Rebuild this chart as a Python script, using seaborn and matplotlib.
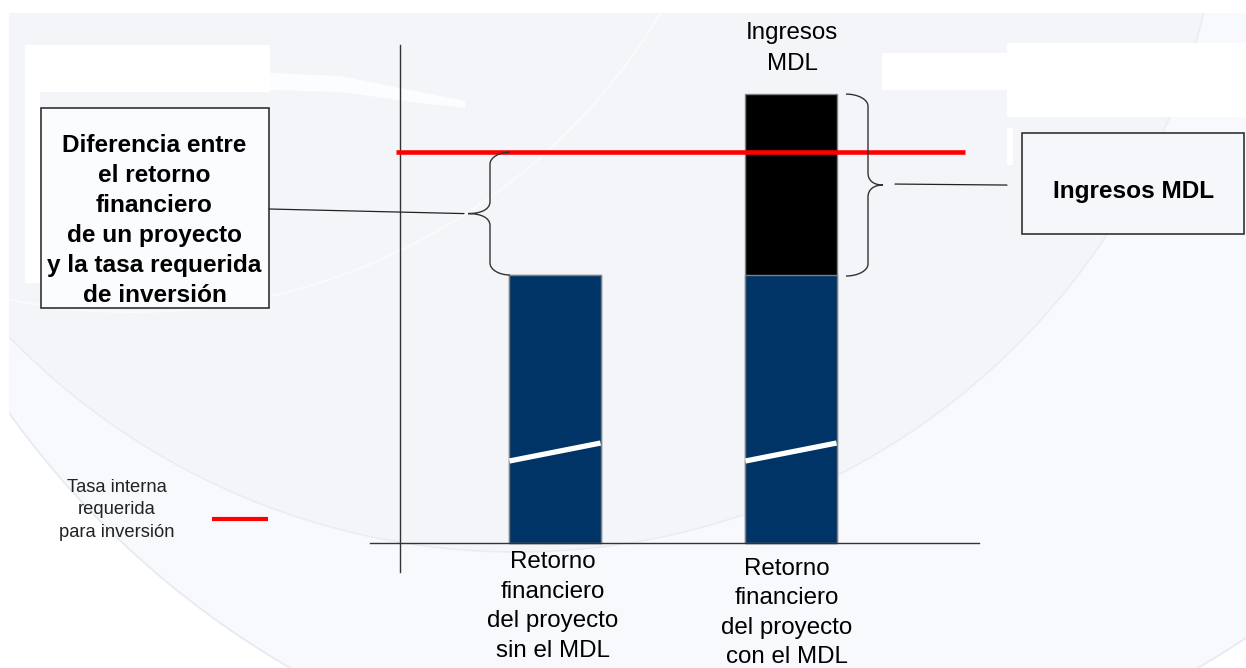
import matplotlib
matplotlib.use("Agg")
import matplotlib.pyplot as plt
import numpy as np
import pandas as pd
import seaborn as sns
from matplotlib.patches import Rectangle, Circle, Polygon, PathPatch
from matplotlib.path import Path

# ---- data -------------------------------------------------------------
escenarios = ["sin el MDL", "con el MDL"]
retorno_proyecto = [12.0, 12.0]      # financial return of the project
ingresos_mdl = [0.0, 8.1]            # extra return from CDM revenue
tasa_requerida = 17.5                # required internal rate for investment

etiquetas_barras = [
    ["Retorno", "financiero", "del proyecto", "sin el MDL"],
    ["Retorno", "financiero", "del proyecto", "con el MDL"],
]
titulo_mdl = ["Ingresos", "MDL"]
texto_diferencia = ["Diferencia entre", "el retorno", "financiero",
                    "de un proyecto", "y la tasa requerida", "de inversión"]
texto_ingresos = "Ingresos MDL"
texto_leyenda = ["Tasa interna", "requerida", "para inversión"]

# ---- style ------------------------------------------------------------
sns.set_theme(style="white")
plt.rcParams["font.family"] = ["Liberation Sans", "DejaVu Sans"]

NAVY = "#003366"
RED = "#FF0000"
INK = "#333333"

W, H = 1246, 668
fig = plt.figure(figsize=(W / 100, H / 100), dpi=100)
fig.patch.set_facecolor("white")

# background layer, pixel coordinates with y pointing down
bg = fig.add_axes([0, 0, 1, 1], zorder=0)
bg.set_xlim(0, W)
bg.set_ylim(H, 0)
bg.axis("off")
bg.add_patch(Circle((744, -115), 905, facecolor="#F8F9FC", edgecolor="#E6EBF2", lw=1.3))
bg.add_patch(Circle((517, -155), 707, facecolor="#F3F5F9", edgecolor="#E8ECF3", lw=1.1))
bg.add_patch(Circle((132, -305), 617, facecolor="none", edgecolor="#F9FAFC", lw=1.6))
for x0, y0, x1, y1 in [(0, 0, W, 13), (0, 0, 9, H), (25, 45, 270, 92), (25, 92, 40, 283),
                       (882, 53, 1007, 90), (1007, 43, W, 117), (1007, 128, 1013, 165)]:
    bg.add_patch(Rectangle((x0, y0), x1 - x0, y1 - y0, facecolor="white", edgecolor="none"))
bg.add_patch(Polygon([(270, 73), (340, 76), (420, 92), (465, 101), (465, 108),
                      (420, 103), (340, 92), (270, 90)], closed=True,
                     facecolor="#FCFDFE", edgecolor="none"))

# ---- bars -------------------------------------------------------------
ax = fig.add_axes([0, 0, 1, 1], zorder=1)
ax.patch.set_alpha(0)
df = pd.DataFrame({"escenario": escenarios,
                   "retorno": retorno_proyecto,
                   "mdl": ingresos_mdl})
df["total"] = df["retorno"] + df["mdl"]

bar_w = 0.386
sns.barplot(data=df, x="escenario", y="total", color="black", width=bar_w,
            saturation=1, edgecolor="#808080", linewidth=1, errorbar=None, ax=ax)
sns.barplot(data=df, x="escenario", y="retorno", color=NAVY, width=bar_w,
            saturation=1, edgecolor="#808080", linewidth=1, errorbar=None, ax=ax)

# scale: 268 px for the base return, baseline at y=543 px, bars 236 px apart
ppu = 268.0 / 12.0
x_unit = 236.0
x_origin = 555.0
y_base = 543.0
ax.set_ylim(-(H - y_base) / ppu, y_base / ppu)
ax.set_xlim(-x_origin / x_unit, (W - x_origin) / x_unit)
ax.set_xticks([])
ax.set_yticks([])
ax.set_xlabel("")
ax.set_ylabel("")

def px_x(p):
    return (p - x_origin) / x_unit

def px_y(p):
    return (y_base - p) / ppu

# axes drawn as crossing lines
for s in ["top", "right"]:
    ax.spines[s].set_visible(False)
ax.spines["left"].set_position(("data", px_x(400)))
ax.spines["left"].set_bounds(px_y(572), px_y(45))
ax.spines["bottom"].set_position(("data", 0))
ax.spines["bottom"].set_bounds(px_x(370), px_x(979))
for s in ["left", "bottom"]:
    ax.spines[s].set_color(INK)
    ax.spines[s].set_linewidth(1.0)

# axis-break marks on the base-return bars
for patch, ret in zip(ax.containers[1], retorno_proyecto):
    x0 = patch.get_x()
    w = patch.get_width()
    ax.plot([x0, x0 + w], [0.306 * ret, 0.373 * ret], color="white",
            lw=3.8, solid_capstyle="butt", zorder=4)

# required-rate line
ax.hlines(tasa_requerida, px_x(396), px_x(965), color=RED, lw=3.3, zorder=5)

# ---- annotations (pixel layer on top) ---------------------------------
ov = fig.add_axes([0, 0, 1, 1], zorder=2)
ov.set_xlim(0, W)
ov.set_ylim(H, 0)
ov.axis("off")

def to_px(x, y):
    return ov.transData.inverted().transform(ax.transData.transform((x, y)))

def brace(x_end, x_spine, x_tip, y_top, y_bot, r=12):
    ym = (y_top + y_bot) / 2
    verts = [
        (x_end, y_top),
        (x_spine + (x_end - x_spine) * 0.45, y_top), (x_spine, y_top + r * 0.45), (x_spine, y_top + r),
        (x_spine, ym - r),
        (x_spine, ym - r * 0.35), (x_spine + (x_tip - x_spine) * 0.4, ym), (x_tip, ym),
        (x_spine + (x_tip - x_spine) * 0.4, ym), (x_spine, ym + r * 0.35), (x_spine, ym + r),
        (x_spine, y_bot - r),
        (x_spine, y_bot - r * 0.45), (x_spine + (x_end - x_spine) * 0.45, y_bot), (x_end, y_bot),
    ]
    codes = [Path.MOVETO,
             Path.CURVE4, Path.CURVE4, Path.CURVE4,
             Path.LINETO,
             Path.CURVE4, Path.CURVE4, Path.CURVE4,
             Path.CURVE4, Path.CURVE4, Path.CURVE4,
             Path.LINETO,
             Path.CURVE4, Path.CURVE4, Path.CURVE4]
    ov.add_patch(PathPatch(Path(verts, codes), facecolor="none", edgecolor=INK, lw=1.0))
    return ym

# gap between the project return and the required rate
y_rate = to_px(0, tasa_requerida)[1]
y_ret = to_px(0, retorno_proyecto[0])[1]
y_tot = to_px(1, retorno_proyecto[1] + ingresos_mdl[1])[1]
ym_left = brace(510, 490, 468, y_rate, y_ret)
ym_right = brace(846, 868, 883, y_tot, y_ret + 1)

ov.plot([269, 464], [209, ym_left], color="#222222", lw=0.9)
ov.plot([895, 1007], [ym_right - 1, ym_right], color="#222222", lw=0.9)

# callout boxes
ov.add_patch(Rectangle((41, 108), 228, 200, facecolor="#FBFCFE", edgecolor=INK, lw=1.2))
ov.add_patch(Rectangle((1022, 133), 222, 101, facecolor="#F6F7FA", edgecolor=INK, lw=1.2))

for i, line in enumerate(texto_diferencia):
    ov.text(154.5, 152 + 30 * i, line, ha="center", va="baseline",
            fontsize=17.6, fontweight="bold", color="black")
ov.text(1134, 198, texto_ingresos, ha="center", va="baseline",
        fontsize=17.6, fontweight="bold", color="black")

for i, line in enumerate(titulo_mdl):
    ov.text(792, 39.5 + 30 * i, line, ha="center", va="baseline",
            fontsize=17.4, color="black")

for (xc, yb0, step), lines in zip([(553, 568, 29.6), (787, 575, 29.4)], etiquetas_barras):
    for i, line in enumerate(lines):
        ov.text(xc, yb0 + step * i, line, ha="center", va="baseline",
                fontsize=17.4, color="black")

# legend for the required-rate line
for i, line in enumerate(texto_leyenda):
    ov.text(117, 492 + 22.5 * i, line, ha="center", va="baseline",
            fontsize=13.2, color="#222222")
ov.plot([212, 268], [519, 519], color=RED, lw=3.0, solid_capstyle="butt")

fig.savefig("out.png", dpi=100)
